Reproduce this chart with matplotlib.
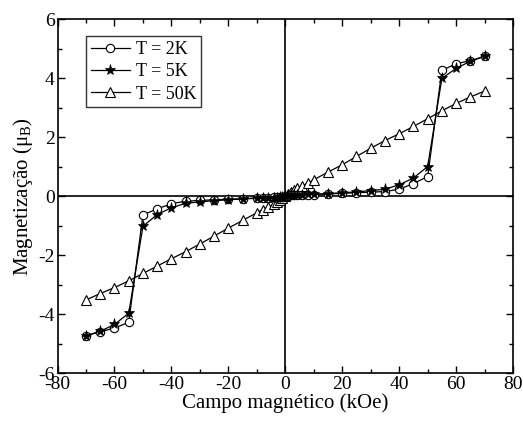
import numpy as np
import matplotlib
matplotlib.use('Agg')
import matplotlib.pyplot as plt
from matplotlib.ticker import MultipleLocator

plt.rcParams['font.family'] = ['Liberation Serif', 'DejaVu Serif']
plt.rcParams['mathtext.fontset'] = 'custom'
plt.rcParams['mathtext.rm'] = 'Liberation Serif'
plt.rcParams['mathtext.it'] = 'Liberation Serif:italic'
plt.rcParams['axes.unicode_minus'] = False

# campo magnetico (kOe)
campo = [-70, -65, -60, -55, -50, -45, -40, -35, -30, -25, -20, -15, -10, -8, -6, -4, -3, -2, -1,
         0, 1, 2, 3, 4, 6, 8, 10, 15, 20, 25, 30, 35, 40, 45, 50, 55, 60, 65, 70]

# magnetizacao (mu_B)
m_2k = [-4.73, -4.60, -4.47, -4.28, -0.63, -0.43, -0.25, -0.17, -0.14, -0.12, -0.10, -0.08, -0.06,
        -0.05, -0.045, -0.04, -0.035, -0.03, -0.02,
        0.0, 0.02, 0.03, 0.035, 0.04, 0.045, 0.05, 0.06, 0.08, 0.10, 0.12, 0.14, 0.16, 0.24, 0.43,
        0.67, 4.27, 4.50, 4.60, 4.75]
m_5k = [-4.73, -4.58, -4.35, -3.97, -1.02, -0.62, -0.39, -0.24, -0.19, -0.15, -0.12, -0.09, -0.07,
        -0.065, -0.06, -0.05, -0.045, -0.04, -0.03,
        0.0, 0.03, 0.04, 0.045, 0.05, 0.06, 0.065, 0.07, 0.09, 0.12, 0.15, 0.19, 0.24, 0.39, 0.62,
        1.01, 4.00, 4.34, 4.58, 4.75]
m_50k = [-3.52, -3.30, -3.10, -2.87, -2.62, -2.37, -2.12, -1.88, -1.62, -1.35, -1.08, -0.82, -0.56,
         -0.45, -0.36, -0.27, -0.20, -0.13, -0.07,
         0.0, 0.07, 0.13, 0.20, 0.27, 0.36, 0.45, 0.56, 0.82, 1.07, 1.35, 1.63, 1.89, 2.12, 2.37,
         2.63, 2.90, 3.15, 3.37, 3.57]

fig = plt.figure(figsize=(5.23, 4.23), dpi=100)
ax = fig.add_axes([0.110, 0.118, 0.871, 0.836])

ax.axhline(0, color='black', lw=1.2, zorder=1)
ax.axvline(0, color='black', lw=1.2, zorder=1)

ax.plot(campo, m_2k, '-o', color='black', mfc='white', mec='black', ms=6, mew=0.8, lw=0.9,
        label='T = 2K', zorder=3)
ax.plot(campo, m_5k, '-*', color='black', mfc='black', mec='black', ms=8, mew=0.5, lw=0.9,
        label='T = 5K', zorder=4)
ax.plot(campo, m_50k, '-^', color='black', mfc='white', mec='black', ms=7, mew=0.8, lw=0.9,
        label='T = 50K', zorder=2)

ax.set_xlim(-80, 80)
ax.set_ylim(-6, 6)
ax.xaxis.set_major_locator(MultipleLocator(20))
ax.xaxis.set_minor_locator(MultipleLocator(10))
ax.yaxis.set_major_locator(MultipleLocator(2))
ax.yaxis.set_minor_locator(MultipleLocator(1))
ax.tick_params(which='both', direction='in', top=True, right=True, labelsize=14, width=1.0)
ax.tick_params(which='major', length=5, pad=2)
ax.tick_params(which='minor', length=3)
for s in ax.spines.values():
    s.set_linewidth(1.2)

ax.set_xlabel('Campo magnético (kOe)', fontsize=15, labelpad=0)
ax.set_ylabel(r'Magnetização ($\mathrm{\mu_B}$)', fontsize=15, labelpad=2)

leg = ax.legend(loc='upper left', bbox_to_anchor=(0.0626, 0.952), borderaxespad=0,
                fontsize=13, frameon=True, fancybox=False, edgecolor='black',
                handlelength=2.2, handletextpad=0.3, labelspacing=0.3, borderpad=0.25)
leg.get_frame().set_linewidth(1.0)

fig.savefig('out.png', dpi=100)
